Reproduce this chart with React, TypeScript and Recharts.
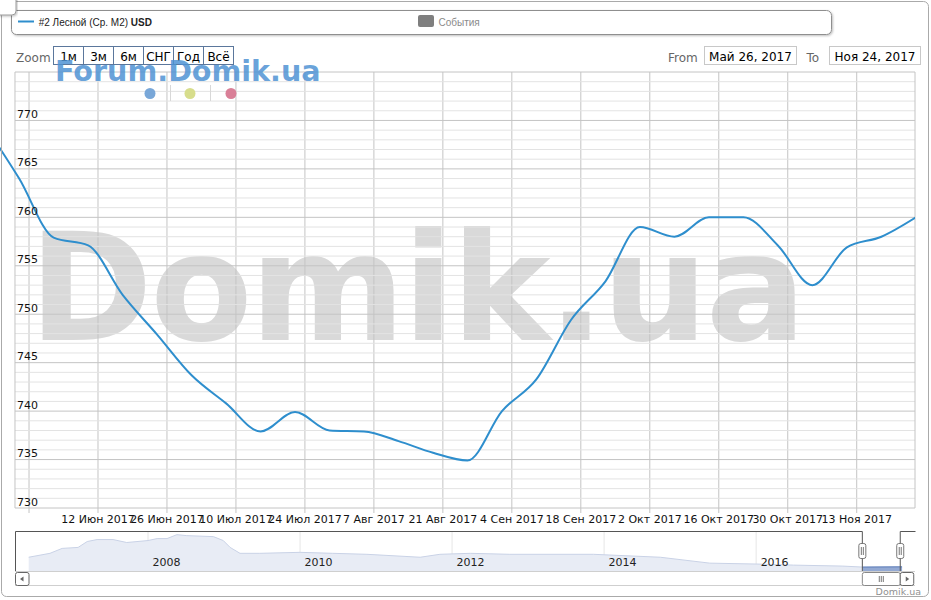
import React from "react";
import {
    LineChart,
    Line,
    AreaChart,
    Area,
    XAxis,
    YAxis,
    CartesianGrid,
    ReferenceLine,
} from "recharts";

// weekly average price, USD per m2
const weekDates = [
    "2017-05-20", "2017-05-27", "2017-06-03", "2017-06-10", "2017-06-17", "2017-06-24",
    "2017-07-01", "2017-07-08", "2017-07-15", "2017-07-22", "2017-07-29", "2017-08-05",
    "2017-08-12", "2017-08-19", "2017-08-26", "2017-09-02", "2017-09-09", "2017-09-16",
    "2017-09-23", "2017-09-30", "2017-10-07", "2017-10-14", "2017-10-21", "2017-10-28",
    "2017-11-04", "2017-11-11", "2017-11-18", "2017-11-25",
];
const weekPrices = [
    769.5, 764.0, 757.9, 757.1, 752.0, 747.9,
    743.7, 740.8, 737.9, 739.9, 738.0, 737.9,
    736.9, 735.7, 734.9, 740.0, 743.3, 749.4,
    753.4, 759.0, 758.0, 760.0, 760.0, 757.1,
    753.0, 756.9, 758.0, 760.0,
];

const tickDates = [
    "2017-05-29", "2017-06-12", "2017-06-26", "2017-07-10", "2017-07-24", "2017-08-07",
    "2017-08-21", "2017-09-04", "2017-09-18", "2017-10-02", "2017-10-16", "2017-10-30",
    "2017-11-13",
];
const monthNames = ["Янв", "Фев", "Мар", "Апр", "Май", "Июн", "Июл", "Авг", "Сен", "Окт", "Ноя", "Дек"];
const yTicks = [730, 735, 740, 745, 750, 755, 760, 765, 770];

// navigator: long history (year, price)
const navYears = [
    2006.43, 2006.71, 2006.87, 2007.08, 2007.2, 2007.33, 2007.54, 2007.72, 2008.0, 2008.12,
    2008.25, 2008.38, 2008.51, 2008.86, 2008.99, 2009.08, 2009.21, 2009.47, 2010.0, 2010.43,
    2010.88, 2011.58, 2011.84, 2012.24, 2012.76, 2013.86, 2014.74, 2015.39, 2016.05, 2016.49,
    2017.14, 2017.4, 2017.92,
];
const navPrices = [
    1200, 1380, 1605, 1650, 1920, 2010, 2010, 1875, 1965, 2055,
    2055, 2235, 2190, 2145, 1965, 1650, 1380, 1380, 1425, 1380,
    1335, 1200, 1335, 1380, 1335, 1335, 1200, 930, 885, 840,
    795, 750, 760,
];
const navYearTicks = [2008, 2010, 2012, 2014, 2016];

const rangeFrom = "2017-05-26";
const rangeTo = "2017-11-24";

const dayNum = (s: string) =>
    Date.UTC(+s.slice(0, 4), +s.slice(5, 7) - 1, +s.slice(8, 10)) / 86400000;
const base = dayNum(rangeFrom);
const toYear = (s: string) => {
    const y = +s.slice(0, 4);
    return y + (dayNum(s) - Date.UTC(y, 0, 1) / 86400000) / 365;
};

const lineData = weekDates.map((d, i) => ({ d: dayNum(d) - base, v: weekPrices[i] }));
const xTicks = tickDates.map((d) => dayNum(d) - base);
const xMin = -2.89;
const xMax = 182.83;
const axisStart = 0.15;
// grid every 1 USD, darker every 5
const gridY = Array.from({ length: 46 }, (_, i) => 730 + i);

const selStart = toYear(rangeFrom);
const selEnd = toYear(rangeTo);
const navData = navYears.map((y, i) => ({
    yr: y,
    v: navPrices[i],
    sel: y >= selStart - 0.01 ? navPrices[i] : undefined,
}));
const navMin = 2006.25;
const navMax = 2018.09;
const navX = (y: number) => 15 + ((y - navMin) / (navMax - navMin)) * 900;

const fmtDate = (s: string) => {
    const m = +s.slice(5, 7) - 1;
    return `${monthNames[m]} ${+s.slice(8, 10)}, ${s.slice(0, 4)}`;
};

const font = "'DejaVu Sans', sans-serif";

const XTick = ({ x, payload }: any) => {
    const idx = xTicks.indexOf(payload.value);
    const s = tickDates[idx];
    if (idx <= 0) return null;
    const label = `${+s.slice(8, 10)} ${monthNames[+s.slice(5, 7) - 1]} ${s.slice(0, 4)}`;
    return (
        <text x={x} y={522.7} textAnchor="middle" fontSize={11} fill="#111" fontFamily={font}>
            {label}
        </text>
    );
};

const YTick = ({ y, payload }: any) => (
    <text x={17} y={y - 2.5} fontSize={11} fill="#111" fontFamily={font}>
        {payload.value}
    </text>
);

const NavTick = ({ x, payload }: any) => (
    <text x={x + 4.5} y={565.7} fontSize={11} fill="#222" fontFamily={font}>
        {payload.value}
    </text>
);

const zoomButtons = ["1м", "3м", "6м", "СНГ", "Год", "Всё"];
const eventDots = [
    { x: 150, c: "#79a7d8" },
    { x: 190, c: "#d7dd8c" },
    { x: 231, c: "#d97f97" },
];

export default function App() {
    const h1 = navX(selStart);
    const h2 = navX(selEnd);
    return (
        <div style={{ position: "absolute", left: 0, top: 0, width: 931, height: 600, fontFamily: font }}>
            {/* background watermark */}
            <svg width={931} height={600} style={{ position: "absolute", left: 0, top: 0 }}>
                <text x={29} y={340} fontSize={149} fontWeight="bold" fill="#d9d9d9" letterSpacing={-2.5} fontFamily={font}>
                    Domik.ua
                </text>
            </svg>

            <div style={{ position: "absolute", left: 0, top: 0 }}>
                <LineChart width={931} height={600} data={lineData} margin={{ top: 72, right: 16, bottom: 62, left: 0 }}>
                    <CartesianGrid horizontal={false} verticalValues={xTicks} stroke="#c4c4c4" />
                    {gridY.map((v) => (
                        <ReferenceLine
                            key={v}
                            segment={[{ x: axisStart, y: v }, { x: xMax, y: v }]}
                            stroke={v % 5 === 0 ? "#c4c4c4" : "#e3e3e3"}
                            ifOverflow="visible"
                        />
                    ))}
                    <XAxis
                        type="number"
                        dataKey="d"
                        domain={[xMin, xMax]}
                        allowDataOverflow
                        ticks={xTicks}
                        interval={0}
                        height={30}
                        axisLine={false}
                        tickLine={{ stroke: "#c4c4c4" }}
                        tickSize={5}
                        tick={<XTick />}
                    />
                    <YAxis
                        type="number"
                        domain={[730, 775]}
                        allowDataOverflow
                        ticks={yTicks}
                        interval={0}
                        mirror
                        width={40}
                        axisLine={false}
                        tickLine={false}
                        tick={<YTick />}
                    />
                    <ReferenceLine x={axisStart} stroke="#c4c4c4" />
                    <ReferenceLine x={xMax} stroke="#c4c4c4" />
                    <Line
                        type="monotone"
                        dataKey="v"
                        stroke="#2e8ecd"
                        strokeWidth={2}
                        dot={false}
                        isAnimationActive={false}
                    />
                </LineChart>
            </div>

            <div style={{ position: "absolute", left: 0, top: 0 }}>
                <AreaChart width={931} height={600} data={navData} margin={{ top: 531.7, right: 16, bottom: 28, left: 15 }}>
                    <CartesianGrid horizontal={false} verticalValues={navYearTicks} stroke="#e6e6e6" />
                    <XAxis
                        type="number"
                        dataKey="yr"
                        domain={[navMin, navMax]}
                        allowDataOverflow
                        ticks={navYearTicks}
                        interval={0}
                        height={1}
                        axisLine={false}
                        tickLine={false}
                        tick={<NavTick />}
                    />
                    <YAxis hide type="number" domain={[570, 2370]} allowDataOverflow />
                    <Area
                        type="linear"
                        dataKey="v"
                        stroke="#c9d2e6"
                        strokeWidth={1}
                        fill="#e8ecf5"
                        fillOpacity={1}
                        isAnimationActive={false}
                    />
                    <Area
                        type="linear"
                        dataKey="sel"
                        stroke="#5f7fba"
                        strokeWidth={1}
                        fill="#93a9d3"
                        fillOpacity={1}
                        isAnimationActive={false}
                    />
                </AreaChart>
            </div>

            {/* chrome: legend, range selector, navigator frame, scrollbar */}
            <svg width={931} height={600} style={{ position: "absolute", left: 0, top: 0, pointerEvents: "none" }}>
                <defs>
                    <filter id="sh" x="-5%" y="-20%" width="110%" height="160%">
                        <feDropShadow dx="1" dy="1" stdDeviation="1" floodColor="#000" floodOpacity="0.25" />
                    </filter>
                </defs>
                <rect x={1.5} y={1.5} width={927} height={595} rx={5} fill="none" stroke="#aaaaaa" />

                <rect x={11.5} y={10.5} width={820} height={24} rx={5} fill="#fff" stroke="#8f8f8f" filter="url(#sh)" />
                <line x1={18} y1={21.5} x2={34} y2={21.5} stroke="#2e8ecd" strokeWidth={2} />
                <text x={38.7} y={25.5} fontSize={10} fill="#222" fontFamily="'Liberation Sans', Arial, sans-serif">
                    #2 Лесной (Ср. М2) <tspan fontWeight="bold">USD</tspan>
                </text>
                <rect x={418} y={15} width={16} height={12} rx={2} fill="#7f7f7f" />
                <text x={438.5} y={25.5} fontSize={10} fill="#8a8a8a" fontFamily="'Liberation Sans', Arial, sans-serif">
                    События
                </text>
                <rect x={-5} y={-5} width={21} height={20} rx={4} fill="#fff" stroke="#9a9a9a" filter="url(#sh)" />

                <text x={16} y={61.5} fontSize={12} fill="#666" fontFamily={font}>
                    Zoom
                </text>
                {zoomButtons.map((b, i) => (
                    <g key={b}>
                        <rect x={53.5 + i * 30} y={46.5} width={30} height={18} fill="#fff" stroke="#5b779c" />
                        <text x={68.5 + i * 30} y={61} fontSize={12} textAnchor="middle" fill="#000" fontFamily={font}>
                            {b}
                        </text>
                    </g>
                ))}

                <text x={668} y={61.5} fontSize={12} fill="#666" fontFamily={font}>
                    From
                </text>
                <rect x={704.5} y={46.5} width={92} height={18} fill="#fff" stroke="#c8c8c8" />
                <text x={750.5} y={61} fontSize={12} textAnchor="middle" fill="#000" fontFamily={font}>
                    {fmtDate(rangeFrom)}
                </text>
                <text x={806.5} y={61.5} fontSize={12} fill="#666" fontFamily={font}>
                    To
                </text>
                <rect x={829.5} y={46.5} width={91} height={18} fill="#fff" stroke="#c8c8c8" />
                <text x={875} y={61} fontSize={12} textAnchor="middle" fill="#000" fontFamily={font}>
                    {fmtDate(rangeTo)}
                </text>

                <text x={55} y={81} fontSize={28.6} fontWeight="bold" fill="#4f93d4" fillOpacity={0.85} fontFamily={font}>
                    Forum.Domik.ua
                </text>

                {eventDots.map((d) => (
                    <circle key={d.x} cx={d.x} cy={93.5} r={5.5} fill={d.c} />
                ))}
                <line x1={170.5} y1={85} x2={170.5} y2={101} stroke="#d8d8d8" />
                <line x1={210.5} y1={85} x2={210.5} y2={101} stroke="#d8d8d8" />

                {/* navigator frame */}
                <path
                    d={`M15.5 571 V531.5 H${h1} V571 M${h2} 571 V531.5 H915.5`}
                    fill="none"
                    stroke="#555"
                />
                {[h1, h2].map((hx) => (
                    <g key={hx}>
                        <rect x={hx - 3.5} y={543.5} width={7} height={15} rx={2} fill="#fff" stroke="#777" />
                        <line x1={hx - 1} y1={547} x2={hx - 1} y2={555} stroke="#777" />
                        <line x1={hx + 1} y1={547} x2={hx + 1} y2={555} stroke="#777" />
                    </g>
                ))}

                {/* scrollbar */}
                <line x1={15} y1={571.5} x2={915} y2={571.5} stroke="#cfcfcf" />
                <line x1={15} y1={585.5} x2={915} y2={585.5} stroke="#cfcfcf" />
                <rect x={15.5} y={572.5} width={13.5} height={13} rx={2} fill="#fff" stroke="#666" />
                <path d="M20 579 L23.5 576.5 L23.5 581.5 Z" fill="#666" />
                <rect x={h1} y={572.5} width={h2 - h1} height={13} rx={2} fill="#fff" stroke="#888" />
                {[-2, 0, 2].map((o) => (
                    <line key={o} x1={(h1 + h2) / 2 + o} y1={576} x2={(h1 + h2) / 2 + o} y2={582} stroke="#777" />
                ))}
                <rect x={h2} y={572.5} width={13.5} height={13} rx={2} fill="#fff" stroke="#666" />
                <path d={`M${h2 + 9} 579 L${h2 + 5.5} 576.5 L${h2 + 5.5} 581.5 Z`} fill="#666" />

                <text x={921} y={595} fontSize={9.5} textAnchor="end" fill="#909090" fontFamily={font}>
                    Domik.ua
                </text>
            </svg>
        </div>
    );
}
